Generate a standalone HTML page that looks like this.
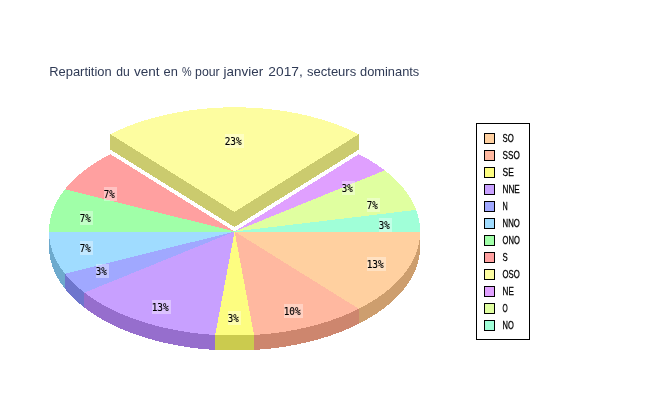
<!DOCTYPE html>
<html><head><meta charset="utf-8"><title>Repartition du vent</title>
<style>
html,body{margin:0;padding:0;background:#fff;}
svg{display:block;}
.tt{font-family:"Liberation Sans",sans-serif;font-size:13.6px;fill:#2f3a55;}
.lg{font-family:"Liberation Sans",sans-serif;font-size:11.5px;fill:#000;stroke:#000;stroke-width:0.3px;}
.pl{font-family:"DejaVu Sans Mono","Liberation Mono",monospace;font-size:11px;fill:#000;stroke:#000;stroke-width:0.15px;}
</style></head><body>
<svg width="650" height="400" viewBox="0 0 650 400">
<rect width="650" height="400" fill="#fff"/>
<g shape-rendering="crispEdges">
<polygon points="420.20,231.50 420.17,233.32 420.09,235.13 419.95,236.94 419.75,238.75 419.49,240.56 419.18,242.37 418.82,244.17 418.39,245.97 417.91,247.77 417.38,249.56 416.79,251.34 416.14,253.12 415.44,254.89 414.69,256.66 413.88,258.42 413.01,260.17 412.09,261.91 411.12,263.64 410.09,265.36 409.01,267.07 407.87,268.77 406.69,270.46 405.45,272.14 404.15,273.80 402.81,275.45 401.42,277.09 399.97,278.72 398.48,280.33 396.93,281.92 395.33,283.50 393.69,285.06 392.00,286.61 390.26,288.14 388.47,289.66 386.63,291.15 384.75,292.63 382.83,294.09 380.85,295.53 378.84,296.95 376.78,298.35 374.67,299.73 372.53,301.09 370.34,302.43 368.11,303.74 365.84,305.04 363.53,306.31 361.18,307.56 358.79,308.79 358.79,323.79 361.18,322.56 363.53,321.31 365.84,320.04 368.11,318.74 370.34,317.43 372.53,316.09 374.67,314.73 376.78,313.35 378.84,311.95 380.85,310.53 382.83,309.09 384.75,307.63 386.63,306.15 388.47,304.66 390.26,303.14 392.00,301.61 393.69,300.06 395.33,298.50 396.93,296.92 398.48,295.33 399.97,293.72 401.42,292.09 402.81,290.45 404.15,288.80 405.45,287.14 406.69,285.46 407.87,283.77 409.01,282.07 410.09,280.36 411.12,278.64 412.09,276.91 413.01,275.17 413.88,273.42 414.69,271.66 415.44,269.89 416.14,268.12 416.79,266.34 417.38,264.56 417.91,262.77 418.39,260.97 418.82,259.17 419.18,257.37 419.49,255.56 419.75,253.75 419.95,251.94 420.09,250.13 420.17,248.32 420.20,246.50" fill="rgb(205,158,110)"/>
<polygon points="358.79,308.79 356.36,309.99 353.90,311.17 351.40,312.32 348.87,313.45 346.30,314.56 343.69,315.64 341.06,316.69 338.39,317.72 335.69,318.72 332.95,319.70 330.19,320.65 327.40,321.57 324.58,322.46 321.73,323.33 318.86,324.16 315.96,324.97 313.04,325.76 310.09,326.51 307.12,327.23 304.13,327.93 301.11,328.59 298.08,329.23 295.03,329.83 291.95,330.41 288.86,330.96 285.76,331.47 282.64,331.96 279.50,332.41 276.35,332.83 273.19,333.23 270.01,333.59 266.83,333.92 263.63,334.22 260.43,334.49 257.22,334.72 254.00,334.93 254.00,349.93 257.22,349.72 260.43,349.49 263.63,349.22 266.83,348.92 270.01,348.59 273.19,348.23 276.35,347.83 279.50,347.41 282.64,346.96 285.76,346.47 288.86,345.96 291.95,345.41 295.03,344.83 298.08,344.23 301.11,343.59 304.13,342.93 307.12,342.23 310.09,341.51 313.04,340.76 315.96,339.97 318.86,339.16 321.73,338.33 324.58,337.46 327.40,336.57 330.19,335.65 332.95,334.70 335.69,333.72 338.39,332.72 341.06,331.69 343.69,330.64 346.30,329.56 348.87,328.45 351.40,327.32 353.90,326.17 356.36,324.99 358.79,323.79" fill="rgb(205,134,110)"/>
<polygon points="254.00,334.93 250.78,335.10 247.55,335.25 244.31,335.36 241.08,335.44 237.84,335.48 234.60,335.50 231.36,335.48 228.12,335.44 224.89,335.36 221.65,335.25 218.42,335.10 215.20,334.93 215.20,349.93 218.42,350.10 221.65,350.25 224.89,350.36 228.12,350.44 231.36,350.48 234.60,350.50 237.84,350.48 241.08,350.44 244.31,350.36 247.55,350.25 250.78,350.10 254.00,349.93" fill="rgb(203,203,78)"/>
<polygon points="215.20,334.93 211.98,334.72 208.77,334.49 205.57,334.22 202.37,333.92 199.19,333.59 196.01,333.23 192.85,332.83 189.70,332.41 186.56,331.96 183.44,331.47 180.34,330.96 177.25,330.41 174.17,329.83 171.12,329.23 168.09,328.59 165.07,327.93 162.08,327.23 159.11,326.51 156.16,325.76 153.24,324.97 150.34,324.16 147.47,323.33 144.62,322.46 141.80,321.57 139.01,320.65 136.25,319.70 133.51,318.72 130.81,317.72 128.14,316.69 125.51,315.64 122.90,314.56 120.33,313.45 117.80,312.32 115.30,311.17 112.84,309.99 110.41,308.79 108.02,307.56 105.67,306.31 103.36,305.04 101.09,303.74 98.86,302.43 96.67,301.09 94.53,299.73 92.42,298.35 90.36,296.95 88.35,295.53 86.37,294.09 84.45,292.63 84.45,307.63 86.37,309.09 88.35,310.53 90.36,311.95 92.42,313.35 94.53,314.73 96.67,316.09 98.86,317.43 101.09,318.74 103.36,320.04 105.67,321.31 108.02,322.56 110.41,323.79 112.84,324.99 115.30,326.17 117.80,327.32 120.33,328.45 122.90,329.56 125.51,330.64 128.14,331.69 130.81,332.72 133.51,333.72 136.25,334.70 139.01,335.65 141.80,336.57 144.62,337.46 147.47,338.33 150.34,339.16 153.24,339.97 156.16,340.76 159.11,341.51 162.08,342.23 165.07,342.93 168.09,343.59 171.12,344.23 174.17,344.83 177.25,345.41 180.34,345.96 183.44,346.47 186.56,346.96 189.70,347.41 192.85,347.83 196.01,348.23 199.19,348.59 202.37,348.92 205.57,349.22 208.77,349.49 211.98,349.72 215.20,349.93" fill="rgb(150,110,205)"/>
<polygon points="84.45,292.63 82.57,291.15 80.73,289.66 78.94,288.14 77.20,286.61 75.51,285.06 73.87,283.50 72.27,281.92 70.72,280.33 69.23,278.72 67.78,277.09 66.39,275.45 65.05,273.80 65.05,288.80 66.39,290.45 67.78,292.09 69.23,293.72 70.72,295.33 72.27,296.92 73.87,298.50 75.51,300.06 77.20,301.61 78.94,303.14 80.73,304.66 82.57,306.15 84.45,307.63" fill="rgb(110,118,205)"/>
<polygon points="65.05,273.80 63.75,272.14 62.51,270.46 61.33,268.77 60.19,267.07 59.11,265.36 58.08,263.64 57.11,261.91 56.19,260.17 55.32,258.42 54.51,256.66 53.76,254.89 53.06,253.12 52.41,251.34 51.82,249.56 51.29,247.77 50.81,245.97 50.38,244.17 50.02,242.37 49.71,240.56 49.45,238.75 49.25,236.94 49.11,235.13 49.03,233.32 49.00,231.50 49.00,246.50 49.03,248.32 49.11,250.13 49.25,251.94 49.45,253.75 49.71,255.56 50.02,257.37 50.38,259.17 50.81,260.97 51.29,262.77 51.82,264.56 52.41,266.34 53.06,268.12 53.76,269.89 54.51,271.66 55.32,273.42 56.19,275.17 57.11,276.91 58.08,278.64 59.11,280.36 60.19,282.07 61.33,283.77 62.51,285.46 63.75,287.14 65.05,288.80" fill="rgb(110,170,205)"/>
<polygon points="234.60,231.50 420.20,231.50 420.17,233.32 420.09,235.13 419.95,236.94 419.75,238.75 419.49,240.56 419.18,242.37 418.82,244.17 418.39,245.97 417.91,247.77 417.38,249.56 416.79,251.34 416.14,253.12 415.44,254.89 414.69,256.66 413.88,258.42 413.01,260.17 412.09,261.91 411.12,263.64 410.09,265.36 409.01,267.07 407.87,268.77 406.69,270.46 405.45,272.14 404.15,273.80 402.81,275.45 401.42,277.09 399.97,278.72 398.48,280.33 396.93,281.92 395.33,283.50 393.69,285.06 392.00,286.61 390.26,288.14 388.47,289.66 386.63,291.15 384.75,292.63 382.83,294.09 380.85,295.53 378.84,296.95 376.78,298.35 374.67,299.73 372.53,301.09 370.34,302.43 368.11,303.74 365.84,305.04 363.53,306.31 361.18,307.56 358.79,308.79" fill="rgb(255,208,160)"/>
<polygon points="234.60,231.50 358.79,308.79 356.36,309.99 353.90,311.17 351.40,312.32 348.87,313.45 346.30,314.56 343.69,315.64 341.06,316.69 338.39,317.72 335.69,318.72 332.95,319.70 330.19,320.65 327.40,321.57 324.58,322.46 321.73,323.33 318.86,324.16 315.96,324.97 313.04,325.76 310.09,326.51 307.12,327.23 304.13,327.93 301.11,328.59 298.08,329.23 295.03,329.83 291.95,330.41 288.86,330.96 285.76,331.47 282.64,331.96 279.50,332.41 276.35,332.83 273.19,333.23 270.01,333.59 266.83,333.92 263.63,334.22 260.43,334.49 257.22,334.72 254.00,334.93" fill="rgb(255,184,160)"/>
<polygon points="234.60,231.50 254.00,334.93 250.78,335.10 247.55,335.25 244.31,335.36 241.08,335.44 237.84,335.48 234.60,335.50 231.36,335.48 228.12,335.44 224.89,335.36 221.65,335.25 218.42,335.10 215.20,334.93" fill="rgb(253,253,128)"/>
<polygon points="234.60,231.50 215.20,334.93 211.98,334.72 208.77,334.49 205.57,334.22 202.37,333.92 199.19,333.59 196.01,333.23 192.85,332.83 189.70,332.41 186.56,331.96 183.44,331.47 180.34,330.96 177.25,330.41 174.17,329.83 171.12,329.23 168.09,328.59 165.07,327.93 162.08,327.23 159.11,326.51 156.16,325.76 153.24,324.97 150.34,324.16 147.47,323.33 144.62,322.46 141.80,321.57 139.01,320.65 136.25,319.70 133.51,318.72 130.81,317.72 128.14,316.69 125.51,315.64 122.90,314.56 120.33,313.45 117.80,312.32 115.30,311.17 112.84,309.99 110.41,308.79 108.02,307.56 105.67,306.31 103.36,305.04 101.09,303.74 98.86,302.43 96.67,301.09 94.53,299.73 92.42,298.35 90.36,296.95 88.35,295.53 86.37,294.09 84.45,292.63" fill="rgb(200,160,255)"/>
<polygon points="234.60,231.50 84.45,292.63 82.57,291.15 80.73,289.66 78.94,288.14 77.20,286.61 75.51,285.06 73.87,283.50 72.27,281.92 70.72,280.33 69.23,278.72 67.78,277.09 66.39,275.45 65.05,273.80" fill="rgb(160,168,255)"/>
<polygon points="234.60,231.50 65.05,273.80 63.75,272.14 62.51,270.46 61.33,268.77 60.19,267.07 59.11,265.36 58.08,263.64 57.11,261.91 56.19,260.17 55.32,258.42 54.51,256.66 53.76,254.89 53.06,253.12 52.41,251.34 51.82,249.56 51.29,247.77 50.81,245.97 50.38,244.17 50.02,242.37 49.71,240.56 49.45,238.75 49.25,236.94 49.11,235.13 49.03,233.32 49.00,231.50" fill="rgb(160,220,255)"/>
<polygon points="234.60,231.50 49.00,231.50 49.03,229.68 49.11,227.87 49.25,226.06 49.45,224.25 49.71,222.44 50.02,220.63 50.38,218.83 50.81,217.03 51.29,215.23 51.82,213.44 52.41,211.66 53.06,209.88 53.76,208.11 54.51,206.34 55.32,204.58 56.19,202.83 57.11,201.09 58.08,199.36 59.11,197.64 60.19,195.93 61.33,194.23 62.51,192.54 63.75,190.86 65.05,189.20" fill="rgb(160,255,168)"/>
<polygon points="234.60,231.50 65.05,189.20 66.39,187.55 67.78,185.91 69.23,184.28 70.72,182.67 72.27,181.08 73.87,179.50 75.51,177.94 77.20,176.39 78.94,174.86 80.73,173.34 82.57,171.85 84.45,170.37 86.37,168.91 88.35,167.47 90.36,166.05 92.42,164.65 94.53,163.27 96.67,161.91 98.86,160.57 101.09,159.26 103.36,157.96 105.67,156.69 108.02,155.44 110.41,154.21" fill="rgb(255,160,160)"/>
<polygon points="234.60,231.50 358.79,154.21 361.18,155.44 363.53,156.69 365.84,157.96 368.11,159.26 370.34,160.57 372.53,161.91 374.67,163.27 376.78,164.65 378.84,166.05 380.85,167.47 382.83,168.91 384.75,170.37" fill="rgb(224,160,255)"/>
<polygon points="234.60,231.50 384.75,170.37 386.63,171.85 388.47,173.34 390.26,174.86 392.00,176.39 393.69,177.94 395.33,179.50 396.93,181.08 398.48,182.67 399.97,184.28 401.42,185.91 402.81,187.55 404.15,189.20 405.45,190.86 406.69,192.54 407.87,194.23 409.01,195.93 410.09,197.64 411.12,199.36 412.09,201.09 413.01,202.83 413.88,204.58 414.69,206.34 415.44,208.11 416.14,209.88" fill="rgb(224,255,160)"/>
<polygon points="234.60,231.50 416.14,209.88 416.79,211.66 417.38,213.44 417.91,215.23 418.39,217.03 418.82,218.83 419.18,220.63 419.49,222.44 419.75,224.25 419.95,226.06 420.09,227.87 420.17,229.68 420.20,231.50" fill="rgb(160,255,216)"/>
<polygon points="234.50,212.00 110.41,134.19 110.41,149.69 234.50,227.00" fill="rgb(203,203,110)"/>
<polygon points="234.50,212.00 358.79,134.19 358.79,149.69 234.50,227.00" fill="rgb(203,203,110)"/>
<polygon points="234.50,212.00 110.41,134.19 112.84,132.98 115.30,131.80 117.80,130.63 120.33,129.50 122.90,128.38 125.51,127.30 128.14,126.23 130.81,125.20 133.51,124.19 136.25,123.21 139.01,122.25 141.80,121.33 144.62,120.43 147.47,119.56 150.34,118.71 153.24,117.90 156.16,117.11 159.11,116.35 162.08,115.62 165.07,114.92 168.09,114.25 171.12,113.61 174.17,113.00 177.25,112.42 180.34,111.87 183.44,111.36 186.56,110.87 189.70,110.41 192.85,109.98 196.01,109.59 199.19,109.22 202.37,108.89 205.57,108.59 208.77,108.32 211.98,108.08 215.20,107.87 218.42,107.70 221.65,107.56 224.89,107.44 228.12,107.36 231.36,107.32 234.60,107.30 237.84,107.32 241.08,107.36 244.31,107.44 247.55,107.56 250.78,107.70 254.00,107.87 257.22,108.08 260.43,108.32 263.63,108.59 266.83,108.89 270.01,109.22 273.19,109.59 276.35,109.98 279.50,110.41 282.64,110.87 285.76,111.36 288.86,111.87 291.95,112.42 295.03,113.00 298.08,113.61 301.11,114.25 304.13,114.92 307.12,115.62 310.09,116.35 313.04,117.11 315.96,117.90 318.86,118.71 321.73,119.56 324.58,120.43 327.40,121.33 330.19,122.25 332.95,123.21 335.69,124.19 338.39,125.20 341.06,126.23 343.69,127.30 346.30,128.38 348.87,129.50 351.40,130.63 353.90,131.80 356.36,132.98 358.79,134.19" fill="rgb(253,253,160)"/>
</g>
<g shape-rendering="crispEdges">
<rect x="367" y="257" width="19" height="14" fill="#fff" fill-opacity="0.36"/>
<rect x="284" y="304" width="19" height="14" fill="#fff" fill-opacity="0.36"/>
<rect x="228" y="311" width="13" height="14" fill="#fff" fill-opacity="0.36"/>
<rect x="152" y="300" width="19" height="14" fill="#fff" fill-opacity="0.36"/>
<rect x="96" y="264" width="13" height="14" fill="#fff" fill-opacity="0.36"/>
<rect x="80" y="241" width="13" height="14" fill="#fff" fill-opacity="0.36"/>
<rect x="80" y="211" width="13" height="14" fill="#fff" fill-opacity="0.36"/>
<rect x="104" y="187" width="13" height="14" fill="#fff" fill-opacity="0.36"/>
<rect x="225" y="134" width="19" height="14" fill="#fff" fill-opacity="0.36"/>
<rect x="342" y="181" width="13" height="14" fill="#fff" fill-opacity="0.36"/>
<rect x="367" y="198" width="13" height="14" fill="#fff" fill-opacity="0.36"/>
<rect x="379" y="218" width="13" height="14" fill="#fff" fill-opacity="0.36"/>
</g>
<text class="pl" x="366.7" y="268" textLength="17" lengthAdjust="spacingAndGlyphs">13%</text>
<text class="pl" x="283.7" y="315" textLength="17" lengthAdjust="spacingAndGlyphs">10%</text>
<text class="pl" x="227.7" y="322" textLength="11" lengthAdjust="spacingAndGlyphs">3%</text>
<text class="pl" x="151.7" y="311" textLength="17" lengthAdjust="spacingAndGlyphs">13%</text>
<text class="pl" x="95.7" y="275" textLength="11" lengthAdjust="spacingAndGlyphs">3%</text>
<text class="pl" x="79.7" y="252" textLength="11" lengthAdjust="spacingAndGlyphs">7%</text>
<text class="pl" x="79.7" y="222" textLength="11" lengthAdjust="spacingAndGlyphs">7%</text>
<text class="pl" x="103.7" y="198" textLength="11" lengthAdjust="spacingAndGlyphs">7%</text>
<text class="pl" x="224.7" y="145" textLength="17" lengthAdjust="spacingAndGlyphs">23%</text>
<text class="pl" x="341.7" y="192" textLength="11" lengthAdjust="spacingAndGlyphs">3%</text>
<text class="pl" x="366.7" y="209" textLength="11" lengthAdjust="spacingAndGlyphs">7%</text>
<text class="pl" x="378.7" y="229" textLength="11" lengthAdjust="spacingAndGlyphs">3%</text>
<text class="tt" x="49.20" y="75.7" textLength="62.50" lengthAdjust="spacingAndGlyphs">Repartition</text>
<text class="tt" x="116.20" y="75.7" textLength="13.50" lengthAdjust="spacingAndGlyphs">du</text>
<text class="tt" x="134.00" y="75.7" textLength="25.60" lengthAdjust="spacingAndGlyphs">vent</text>
<text class="tt" x="163.60" y="75.7" textLength="14.30" lengthAdjust="spacingAndGlyphs">en</text>
<text class="tt" x="182.00" y="75.7" textLength="9.60" lengthAdjust="spacingAndGlyphs">%</text>
<text class="tt" x="195.10" y="75.7" textLength="24.60" lengthAdjust="spacingAndGlyphs">pour</text>
<text class="tt" x="223.60" y="75.7" textLength="39.50" lengthAdjust="spacingAndGlyphs">janvier</text>
<text class="tt" x="268.30" y="75.7" textLength="34.50" lengthAdjust="spacingAndGlyphs">2017,</text>
<text class="tt" x="307.00" y="75.7" textLength="49.20" lengthAdjust="spacingAndGlyphs">secteurs</text>
<text class="tt" x="360.00" y="75.7" textLength="59.30" lengthAdjust="spacingAndGlyphs">dominants</text>
<g shape-rendering="crispEdges">
<rect x="476.5" y="123.5" width="53" height="216" fill="#fff" stroke="#000" stroke-width="1"/>
<rect x="484.5" y="133.5" width="10" height="10" fill="rgb(255,208,160)" stroke="#000" stroke-width="1"/>
<text class="lg" x="502.6" y="142" textLength="11.2" lengthAdjust="spacingAndGlyphs">SO</text>
<rect x="484.5" y="150.5" width="10" height="10" fill="rgb(255,184,160)" stroke="#000" stroke-width="1"/>
<text class="lg" x="502.6" y="159" textLength="17.2" lengthAdjust="spacingAndGlyphs">SSO</text>
<rect x="484.5" y="167.5" width="10" height="10" fill="rgb(253,253,128)" stroke="#000" stroke-width="1"/>
<text class="lg" x="502.6" y="176" textLength="11.2" lengthAdjust="spacingAndGlyphs">SE</text>
<rect x="484.5" y="184.5" width="10" height="10" fill="rgb(200,160,255)" stroke="#000" stroke-width="1"/>
<text class="lg" x="502.6" y="193" textLength="17.2" lengthAdjust="spacingAndGlyphs">NNE</text>
<rect x="484.5" y="201.5" width="10" height="10" fill="rgb(160,168,255)" stroke="#000" stroke-width="1"/>
<text class="lg" x="502.6" y="210" textLength="5.2" lengthAdjust="spacingAndGlyphs">N</text>
<rect x="484.5" y="218.5" width="10" height="10" fill="rgb(160,220,255)" stroke="#000" stroke-width="1"/>
<text class="lg" x="502.6" y="227" textLength="17.2" lengthAdjust="spacingAndGlyphs">NNO</text>
<rect x="484.5" y="235.5" width="10" height="10" fill="rgb(160,255,168)" stroke="#000" stroke-width="1"/>
<text class="lg" x="502.6" y="244" textLength="17.2" lengthAdjust="spacingAndGlyphs">ONO</text>
<rect x="484.5" y="252.5" width="10" height="10" fill="rgb(255,160,160)" stroke="#000" stroke-width="1"/>
<text class="lg" x="502.6" y="261" textLength="5.2" lengthAdjust="spacingAndGlyphs">S</text>
<rect x="484.5" y="269.5" width="10" height="10" fill="rgb(253,253,160)" stroke="#000" stroke-width="1"/>
<text class="lg" x="502.6" y="278" textLength="17.2" lengthAdjust="spacingAndGlyphs">OSO</text>
<rect x="484.5" y="286.5" width="10" height="10" fill="rgb(224,160,255)" stroke="#000" stroke-width="1"/>
<text class="lg" x="502.6" y="295" textLength="11.2" lengthAdjust="spacingAndGlyphs">NE</text>
<rect x="484.5" y="303.5" width="10" height="10" fill="rgb(224,255,160)" stroke="#000" stroke-width="1"/>
<text class="lg" x="502.6" y="312" textLength="5.2" lengthAdjust="spacingAndGlyphs">O</text>
<rect x="484.5" y="320.5" width="10" height="10" fill="rgb(160,255,216)" stroke="#000" stroke-width="1"/>
<text class="lg" x="502.6" y="329" textLength="11.2" lengthAdjust="spacingAndGlyphs">NO</text>
</g>
</svg>
</body></html>
